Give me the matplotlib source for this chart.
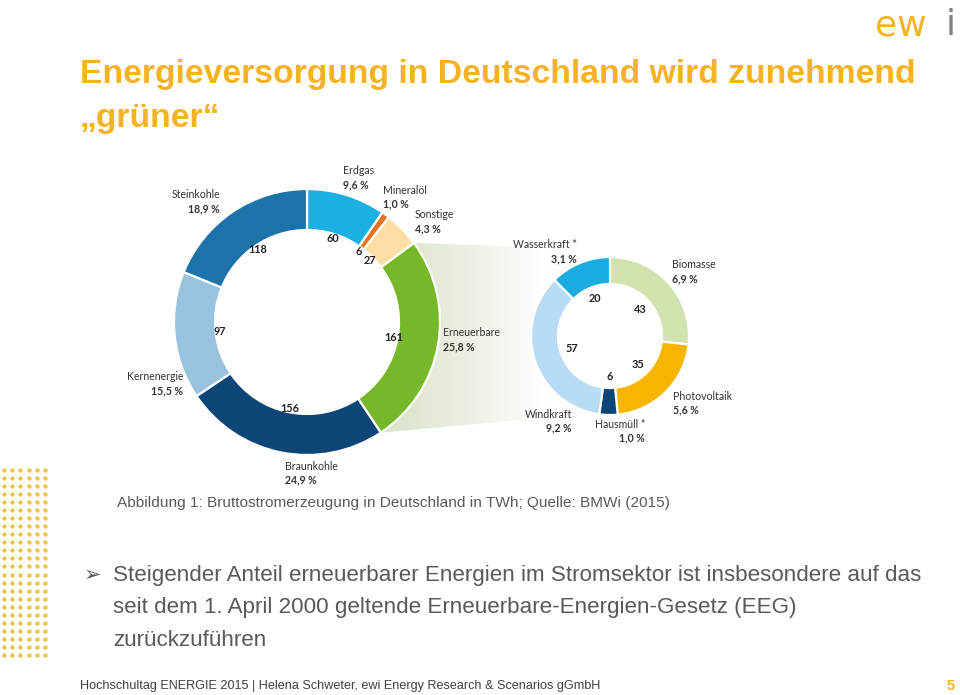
import numpy as np
import matplotlib.pyplot as plt
from matplotlib.patches import Polygon

W, H = 960, 695

# ---------------- data ----------------
main_labels = ['Erdgas', 'Mineralöl', 'Sonstige', 'Erneuerbare', 'Braunkohle', 'Kernenergie', 'Steinkohle']
main_values = [60, 6, 27, 161, 156, 97, 118]
main_pcts = ['9,6 %', '1,0 %', '4,3 %', '25,8 %', '24,9 %', '15,5 %', '18,9 %']

ren_labels = ['Biomasse', 'Photovoltaik', 'Hausmüll *', 'Windkraft', 'Wasserkraft *']
ren_values = [43, 35, 6, 57, 20]
ren_pcts = ['6,9 %', '5,6 %', '1,0 %', '9,2 %', '3,1 %']

title_lines = ['Energieversorgung in Deutschland wird zunehmend', '\u201egr\u00fcner\u201c']
caption = 'Abbildung 1: Bruttostromerzeugung in Deutschland in TWh; Quelle: BMWi (2015)'
bullet_lines = ['Steigender Anteil erneuerbarer Energien im Stromsektor ist insbesondere auf das',
                'seit dem 1. April 2000 geltende Erneuerbare-Energien-Gesetz (EEG)',
                'zur\u00fcckzuf\u00fchren']
footer = 'Hochschultag ENERGIE 2015 | Helena Schweter, ewi Energy Research & Scenarios gGmbH'
page_no = '5'

# ---------------- styles ----------------
main_colors = ['#1cafe2', '#e8731c', '#fddfa6', '#77b82b', '#0c4578', '#98c2de', '#1c73a9']
ren_colors = ['#d1e2ae', '#f7b500', '#0c4578', '#b7dcf3', '#19ace0']
YELLOW = '#f5b323'
GREY = '#595959'
LBL = '#333333'

# label layout (pixel positions, ha)
main_lbl_pos = [(343, 171, 'left'), (383, 190, 'left'), (415, 215, 'left'),
                (443, 333, 'left'), (285, 466, 'left'), (183, 377, 'right'),
                (220, 195, 'right')]
ren_lbl_pos = [(672, 265, 'left'), (673, 396, 'left'), (645, 424, 'right'),
               (572, 414, 'right'), (577, 245, 'right')]


def Y(y):
    return H - y


fig = plt.figure(figsize=(9.6, 6.95), dpi=100)
ax = fig.add_axes([0, 0, 1, 1])

# ---------------- left donut ----------------
c1 = (307, Y(322))
r1 = 133
w1, _ = ax.pie(main_values, colors=main_colors, startangle=90, counterclock=False,
               radius=r1, center=c1, frame=True,
               wedgeprops=dict(width=41, edgecolor='white', linewidth=1.6))
for w in w1:
    w.set_zorder(3)

# ---------------- connector band ----------------
wE = w1[main_labels.index('Erneuerbare')]
angs = np.deg2rad(np.linspace(wE.theta2, wE.theta1, 40))
arc = np.column_stack([c1[0] + r1 * np.cos(angs), c1[1] + r1 * np.sin(angs)])
pts = np.vstack([arc, [[600, Y(413)], [600, Y(249)]]])
band = Polygon(pts, closed=True, facecolor='none', edgecolor='none')
ax.add_patch(band)
xs = np.linspace(0, 1, 300)
c_left = np.array([0.86, 0.895, 0.80])
c_right = np.array([1.0, 1.0, 1.0])
t = np.clip((xs - 0.08) / 0.62, 0, 1)[:, None]
grad = (c_left * (1 - t) + c_right * t)[None, :, :]
im = ax.imshow(grad, extent=(380, 620, Y(450), Y(230)), aspect='auto', zorder=1,
               interpolation='bilinear')
im.set_clip_path(band)

# ---------------- right donut ----------------
c2 = (610, Y(336))
r2 = 79
w2, _ = ax.pie(ren_values, colors=ren_colors, startangle=90, counterclock=False,
               radius=r2, center=c2, frame=True,
               wedgeprops=dict(width=27, edgecolor='white', linewidth=1.6))
for w in w2:
    w.set_zorder(3)

lbl_font = ['Lato', 'DejaVu Sans']

# inner values
for wedges, vals, c, r, f in [(w1, main_values, c1, r1, 0.66), (w2, ren_values, c2, r2, 0.51)]:
    for w, v in zip(wedges, vals):
        a = np.deg2rad((w.theta1 + w.theta2) / 2)
        ax.text(c[0] + f * r * np.cos(a), c[1] + f * r * np.sin(a), str(v),
                ha='center', va='center', fontsize=7.8, fontweight='bold',
                color='#222222', family=lbl_font, zorder=5)

# outer labels
for labels, pcts, pos in [(main_labels, main_pcts, main_lbl_pos), (ren_labels, ren_pcts, ren_lbl_pos)]:
    for name, pct, (x, y, ha) in zip(labels, pcts, pos):
        ax.text(x, Y(y), name, ha=ha, va='center', fontsize=7.6, color=LBL,
                family=lbl_font, zorder=5)
        ax.text(x, Y(y + 14), pct, ha=ha, va='center', fontsize=7.6, fontweight='bold',
                color=LBL, family=lbl_font, zorder=5)

# ---------------- slide texts ----------------
sans = ['Liberation Sans', 'DejaVu Sans']
ax.text(80, Y(74), title_lines[0], fontsize=24.3, fontweight='bold', color=YELLOW,
        va='center', ha='left', family=sans)
ax.text(80, Y(119), title_lines[1], fontsize=24.3, fontweight='bold', color=YELLOW,
        va='center', ha='left', family=sans)

ax.text(117, Y(503), caption, fontsize=11.05, color=GREY, va='center', ha='left', family=sans)

ax.text(84, Y(575), '\u27a2', fontsize=15, color=GREY, va='center', ha='left',
        family=['DejaVu Sans'])
for i, line in enumerate(bullet_lines):
    ax.text(113, Y(575 + 33 * i), line, fontsize=16.1, color=GREY, va='center', ha='left',
            family=sans)

ax.text(80, Y(686), footer, fontsize=9.1, color='#404040', va='center', ha='left', family=sans)
ax.text(955, Y(686), page_no, fontsize=10.5, fontweight='bold', color=YELLOW, va='center',
        ha='right', family=sans)

# logo
ax.text(875, Y(35), 'ew', fontsize=26, color=YELLOW, va='baseline', ha='left',
        fontweight='normal', family=['DejaVu Sans'])
ax.text(946, Y(35), 'i', fontsize=26, color='#7f7f7f', va='baseline', ha='left',
        fontweight='normal', family=['DejaVu Sans'])

# dotted decoration
gx, gy = np.meshgrid(np.arange(6) * 8.2 + 4, np.arange(24) * 8.04 + 470)
ax.scatter(gx.ravel(), Y(gy.ravel()), s=10, color='#f0c64a', linewidths=0, zorder=2)

ax.set_xlim(0, W)
ax.set_ylim(0, H)
ax.set_aspect('equal', adjustable='box')
ax.axis('off')

fig.savefig('out.png', dpi=100, facecolor='white')
